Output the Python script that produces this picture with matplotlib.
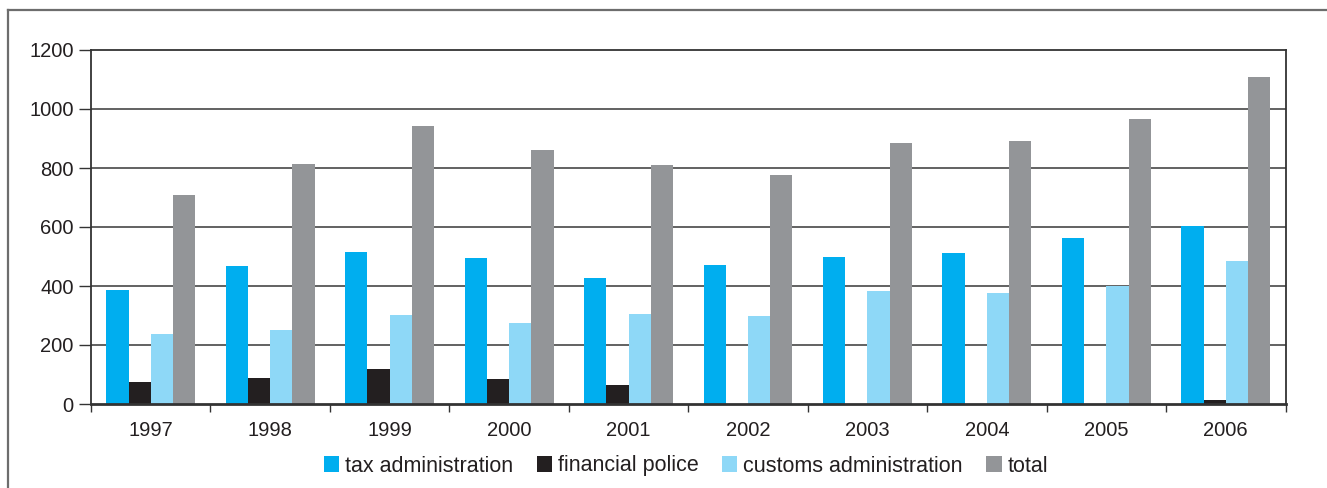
import matplotlib

matplotlib.use("Agg")
import matplotlib.pyplot as plt
import numpy as np
from matplotlib.lines import Line2D
from matplotlib.patches import Patch

years = ["1997", "1998", "1999", "2000", "2001", "2002", "2003", "2004", "2005", "2006"]
tax_admin = [388, 469, 516, 496, 428, 472, 499, 513, 564, 605]
fin_police = [76, 89, 120, 86, 66, 0, 0, 0, 0, 15]
customs_admin = [238, 252, 303, 276, 306, 299, 384, 377, 401, 486]
total = [710, 815, 943, 862, 811, 777, 886, 893, 967, 1108]
series_names = ["tax administration", "financial police", "customs administration", "total"]
y_ticks = [0, 200, 400, 600, 800, 1000, 1200]

COLORS = ["#00aeef", "#231f20", "#8ed8f7", "#939598"]
INK = "#231f20"
GRID = "#555555"
FRAME = "#6d6d6d"

plt.rcParams.update({
    "font.family": ["Liberation Sans", "DejaVu Sans"],
    "font.size": 14.5,
    "text.color": INK,
    "xtick.color": INK, "ytick.color": INK,
})

W, H = 1327, 488
fig = plt.figure(figsize=(W / 100, H / 100), dpi=100)
ax = fig.add_axes([91 / W, 84 / H, (1285.5 - 91) / W, (404 - 50) / H])

x = np.arange(len(years))
bw = 0.186
data = [tax_admin, fin_police, customs_admin, total]
for i, (vals, col) in enumerate(zip(data, COLORS)):
    ax.bar(x + (i - 1.5) * bw, vals, width=bw, color=col, linewidth=0, zorder=3)

ax.set_xlim(-0.5, len(years) - 0.5)
ax.set_ylim(0, 1200)
ax.set_yticks(y_ticks)
ax.set_yticklabels([str(v) for v in y_ticks])
ax.set_xticks(x)
ax.set_xticklabels(years)
ax.set_xticks(np.arange(-0.5, len(years)), minor=True)
ax.tick_params(axis="x", which="major", length=0, pad=12, labelsize=14.5)
ax.tick_params(axis="x", which="minor", length=6, width=1, color="#333333", direction="out")
ax.tick_params(axis="y", length=8.5, width=1, color="#333333", direction="out", pad=4, labelsize=14.5)

for v in y_ticks[1:-1]:
    ax.axhline(v, color=GRID, linewidth=1.3, zorder=1)
for side in ("left", "right", "top"):
    ax.spines[side].set_color("#333333")
    ax.spines[side].set_linewidth(1.3)
ax.spines["bottom"].set_color("#333333")
ax.spines["bottom"].set_linewidth(2)
ax.spines["bottom"].set_zorder(4)

handles = [Patch(facecolor=c, edgecolor="none") for c in COLORS]
fig.legend(handles, series_names, loc="center", bbox_to_anchor=(686 / W, 1 - 466 / H),
           ncol=4, frameon=False, fontsize=15.5, handlelength=0.7, handleheight=0.7,
           handletextpad=0.28, columnspacing=1.1, borderaxespad=0)

# outer frame: top and left rules
fig.add_artist(Line2D([8 / W, 1], [1 - 10 / H, 1 - 10 / H], color=FRAME, linewidth=1.6,
                      transform=fig.transFigure))
fig.add_artist(Line2D([8 / W, 8 / W], [0, 1 - 10 / H], color=FRAME, linewidth=1.6,
                      transform=fig.transFigure))

fig.savefig("out.png", dpi=100, facecolor="white")
